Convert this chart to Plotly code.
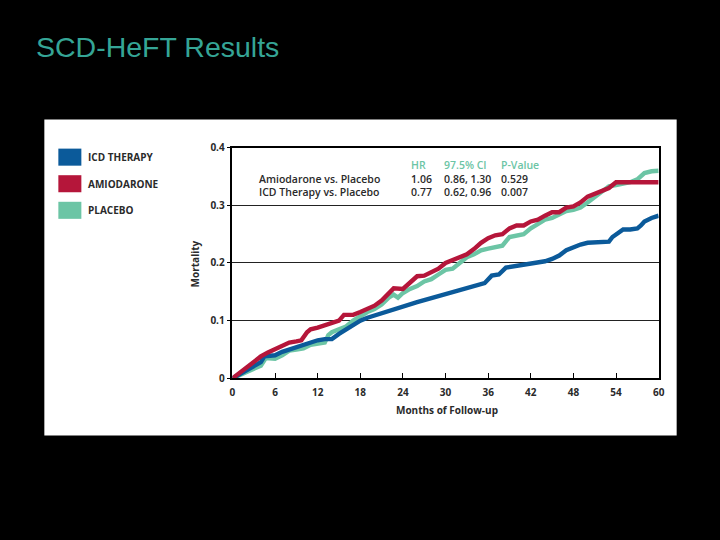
import plotly.graph_objects as go

W, H = 720, 540

# ---------------- data ----------------
amio_m = [0, 1, 2, 3, 4, 5, 6, 7, 8, 9, 9.7, 10.5, 11, 12, 13, 14, 15, 15.7, 17, 18, 19, 20, 21, 22,
          22.7, 24, 25, 26, 27, 28, 29, 30, 31, 32, 33, 34, 35, 36, 37, 38, 39, 40, 41, 42, 43, 44,
          45, 46, 47, 48, 49, 50, 51, 52, 53, 54, 60]
amio_v = [0, 0.01, 0.02, 0.03, 0.038, 0.045, 0.05, 0.055, 0.062, 0.064, 0.066, 0.08, 0.085, 0.088,
          0.092, 0.097, 0.1, 0.11, 0.11, 0.115, 0.12, 0.126, 0.135, 0.148, 0.156, 0.155, 0.165, 0.177,
          0.178, 0.185, 0.19, 0.2, 0.205, 0.21, 0.215, 0.224, 0.235, 0.243, 0.248, 0.25, 0.26, 0.265,
          0.265, 0.272, 0.275, 0.282, 0.288, 0.288, 0.296, 0.298, 0.305, 0.315, 0.32, 0.327, 0.33,
          0.34, 0.34]

plac_m = [0, 1, 2, 3, 4, 4.7, 5.5, 6, 7, 8, 9, 10, 11, 12, 13, 13.5, 14, 15, 16, 17, 18, 19, 20, 21,
          22, 22.7, 23.3, 24, 25, 26, 27, 28, 29, 30, 31, 32, 33, 34, 35, 36, 37, 38, 39, 40, 41, 42,
          43, 44, 45, 46, 47, 48, 49, 50, 51, 52, 53, 54, 55, 56, 57, 58, 59, 60]
plac_v = [0, 0.005, 0.01, 0.015, 0.022, 0.035, 0.035, 0.034, 0.04, 0.048, 0.05, 0.052, 0.058, 0.06,
          0.062, 0.075, 0.08, 0.085, 0.09, 0.1, 0.108, 0.115, 0.12, 0.128, 0.14, 0.145, 0.14, 0.148,
          0.155, 0.16, 0.168, 0.172, 0.18, 0.188, 0.19, 0.2, 0.21, 0.215, 0.222, 0.225, 0.228, 0.23,
          0.245, 0.248, 0.25, 0.26, 0.268, 0.275, 0.278, 0.283, 0.29, 0.292, 0.296, 0.305, 0.315,
          0.325, 0.333, 0.335, 0.337, 0.34, 0.345, 0.356, 0.359, 0.36]

icd_m = [0, 1, 2, 3, 4, 4.5, 5.5, 6, 7, 8, 9, 10, 11, 12, 13, 14, 15, 16, 17, 18, 19, 20, 22, 24, 26,
         28, 30, 32, 34, 35.5, 36.5, 37.5, 38.5, 40, 42, 44, 45, 46, 47, 48, 49, 50, 52, 53, 53.5, 54,
         55, 56, 57, 57.5, 58, 59, 60]
icd_v = [0, 0.007, 0.013, 0.02, 0.028, 0.038, 0.04, 0.04, 0.046, 0.05, 0.055, 0.058, 0.063, 0.066,
         0.068, 0.068, 0.077, 0.085, 0.092, 0.1, 0.105, 0.109, 0.117, 0.125, 0.132, 0.139, 0.146,
         0.152, 0.159, 0.165, 0.178, 0.18, 0.192, 0.195, 0.2, 0.203, 0.207, 0.213, 0.222, 0.228,
         0.232, 0.235, 0.237, 0.237, 0.245, 0.25, 0.258, 0.258, 0.26, 0.265, 0.272, 0.278, 0.282]

series_names = ["ICD THERAPY", "AMIODARONE", "PLACEBO"]
series_colors = ["#0b5a9a", "#b5163a", "#6cc5a5"]

x_ticks = [0, 6, 12, 18, 24, 30, 36, 42, 48, 54, 60]
y_ticks = [0, 0.1, 0.2, 0.3, 0.4]
y_tick_text = ["0", "0.1", "0.2", "0.3", "0.4"]

table_header = ["HR", "97.5% CI", "P-Value"]
table_rows = ["Amiodarone vs. Placebo", "ICD Therapy vs. Placebo"]
table_hr = ["1.06", "0.77"]
table_ci = ["0.86, 1.30", "0.62, 0.96"]
table_p = ["0.529", "0.007"]

# ---------------- helpers (pixel -> paper, with small compensation) ----------------
SX, SY = 0.987, 0.971

def px(x):
    return (360 + (x - 360) / SX) / W

def py(y):
    return 1 - (270 + (y - 270) / SY) / H

FONT = "Open Sans"
TXT = "#2a2a2a"
HDR = "#6cc5a5"

fig = go.Figure()
fig.add_trace(go.Scatter(x=plac_m, y=plac_v, mode="lines", name=series_names[2],
                         line=dict(color=series_colors[2], width=4.4)))
fig.add_trace(go.Scatter(x=icd_m, y=icd_v, mode="lines", name=series_names[0],
                         line=dict(color=series_colors[0], width=4.4)))
fig.add_trace(go.Scatter(x=amio_m, y=amio_v, mode="lines", name=series_names[1],
                         line=dict(color=series_colors[1], width=4.4)))

shapes = [dict(type="rect", xref="paper", yref="paper", x0=px(46), x1=px(678), y0=py(435), y1=py(120),
               fillcolor="white", line=dict(width=0), layer="below")]
annotations = []

# legend boxes
leg_y = [157.5, 184, 210.5]
for name, col, yc in zip(series_names, series_colors, leg_y):
    shapes.append(dict(type="rect", xref="paper", yref="paper", x0=px(60), x1=px(83),
                       y0=py(yc + 8.5), y1=py(yc - 8.5), fillcolor=col, line=dict(width=0)))
    annotations.append(dict(text=name, xref="paper", yref="paper", x=px(88), y=py(yc),
                            xanchor="left", yanchor="middle", showarrow=False,
                            font=dict(family=FONT, size=10, color=TXT, weight=700)))

# table: one annotation per column (header + two rows)
col_x = [259, 410, 443, 500]
col_hdr = [""] + table_header
col_vals = [table_rows, table_hr, table_ci, table_p]
for xx, hdr, vals in zip(col_x, col_hdr, col_vals):
    hdr_txt = f'<span style="color:{HDR}">{hdr}</span>' if hdr else " "
    text = hdr_txt + "<br>" + "<br>".join(vals)
    annotations.append(dict(text=text, xref="paper", yref="paper", x=px(xx), y=py(179),
                            xanchor="left", yanchor="middle", align="left", showarrow=False,
                            font=dict(family=FONT, size=10.5, color=TXT, weight=600)))

# axis titles
annotations.append(dict(text="Mortality", xref="paper", yref="paper", x=px(197), y=py(264),
                        xanchor="center", yanchor="middle", textangle=-90, showarrow=False,
                        font=dict(family=FONT, size=10, color=TXT, weight=700)))
annotations.append(dict(text="Months of Follow-up", xref="paper", yref="paper", x=px(448), y=py(410),
                        xanchor="center", yanchor="middle", showarrow=False,
                        font=dict(family=FONT, size=10, color=TXT, weight=700)))

# title
annotations.append(dict(text="SCD-HeFT Results", xref="paper", yref="paper", x=px(36), y=py(48),
                        xanchor="left", yanchor="middle", showarrow=False,
                        font=dict(family="Liberation Sans, Arial", size=28.5, color="#35a596")))

fig.update_layout(
    width=W, height=H,
    paper_bgcolor="black", plot_bgcolor="white",
    margin=dict(l=0, r=0, t=0, b=0),
    showlegend=False,
    shapes=shapes, annotations=annotations,
    xaxis=dict(domain=[px(234), px(660)], range=[0, 60], tickvals=x_ticks,
               ticks="inside", ticklen=6, tickwidth=1.3, tickcolor="black",
               showline=True, linecolor="black", linewidth=1.5, mirror=True,
               showgrid=False, zeroline=False, ticklabelstandoff=4,
               tickfont=dict(family=FONT, size=10, color=TXT, weight=700)),
    yaxis=dict(domain=[py(378), py(148)], range=[0, 0.4], tickvals=y_ticks, ticktext=y_tick_text,
               ticks="outside", ticklen=4, tickwidth=1.2, tickcolor="black",
               showline=True, linecolor="black", linewidth=1.5, mirror=True,
               showgrid=True, gridcolor="#222", gridwidth=1.2, zeroline=False,
               tickfont=dict(family=FONT, size=10, color=TXT, weight=700)),
)

fig.write_html("out.html", config={"displayModeBar": False},
               post_script="document.body.style.margin='0';document.body.style.overflow='hidden';")
